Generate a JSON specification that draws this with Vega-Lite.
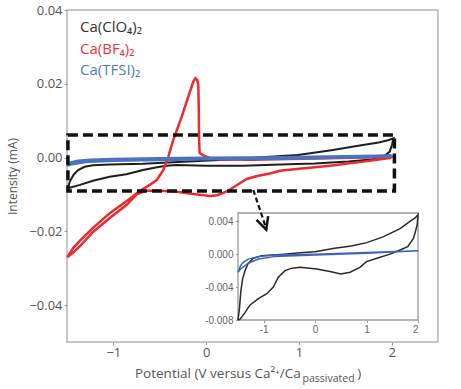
{
  "$schema": "https://vega.github.io/schema/vega-lite/v6.json",
  "width": 371,
  "height": 332,
  "autosize": {"type": "none"},
  "padding": {"left": 67, "top": 10, "right": 23, "bottom": 47},
  "background": "white",
  "config": {
    "view": {"stroke": "#b4b4b4", "strokeWidth": 1.5},
    "axis": {"grid": false, "domain": false},
    "font": "Open Sans"
  },
  "datasets": {
    "box": [{"v": -1.49, "v2": 2.03, "i": -0.0091, "i2": 0.0061}],
    "clo4": [
      {"o": 1, "v": -1.49, "i": -0.0083}, {"o": 2, "v": -1.47, "i": -0.0065}, {"o": 3, "v": -1.43, "i": -0.0047},
      {"o": 4, "v": -1.38, "i": -0.0034}, {"o": 5, "v": -1.31, "i": -0.0025}, {"o": 6, "v": -1.22, "i": -0.0021},
      {"o": 7, "v": -1.04, "i": -0.0019}, {"o": 8, "v": -0.68, "i": -0.0017}, {"o": 9, "v": -0.3, "i": -0.0012},
      {"o": 10, "v": 0.2, "i": -0.0006}, {"o": 11, "v": 0.6, "i": 0.0001}, {"o": 12, "v": 0.99, "i": 0.0007},
      {"o": 13, "v": 1.35, "i": 0.002}, {"o": 14, "v": 1.64, "i": 0.0032}, {"o": 15, "v": 1.86, "i": 0.0041},
      {"o": 16, "v": 1.96, "i": 0.0047}, {"o": 17, "v": 2.02, "i": 0.0052}, {"o": 18, "v": 2.005, "i": 0.0036},
      {"o": 19, "v": 1.98, "i": 0.0016}, {"o": 20, "v": 1.91, "i": 0.0002}, {"o": 21, "v": 1.785, "i": -0.0005},
      {"o": 22, "v": 1.533, "i": -0.0011}, {"o": 23, "v": 1.174, "i": -0.0016}, {"o": 24, "v": 0.8, "i": -0.0019},
      {"o": 25, "v": 0.4, "i": -0.0022}, {"o": 26, "v": 0.0, "i": -0.0022}, {"o": 27, "v": -0.32, "i": -0.002},
      {"o": 28, "v": -0.43, "i": -0.0022}, {"o": 29, "v": -0.53, "i": -0.0026}, {"o": 30, "v": -0.68, "i": -0.0034},
      {"o": 31, "v": -0.86, "i": -0.0045}, {"o": 32, "v": -1.04, "i": -0.0052}, {"o": 33, "v": -1.22, "i": -0.0063},
      {"o": 34, "v": -1.36, "i": -0.0074}, {"o": 35, "v": -1.49, "i": -0.0083}
    ],
    "bf4": [
      {"o": 1, "v": -1.497, "i": -0.027}, {"o": 2, "v": -1.43, "i": -0.0244}, {"o": 3, "v": -1.36, "i": -0.0225},
      {"o": 4, "v": -1.216, "i": -0.019}, {"o": 5, "v": -1.036, "i": -0.015}, {"o": 6, "v": -0.856, "i": -0.0118},
      {"o": 7, "v": -0.713, "i": -0.009}, {"o": 8, "v": -0.62, "i": -0.0076}, {"o": 9, "v": -0.533, "i": -0.0061},
      {"o": 10, "v": -0.462, "i": -0.0034}, {"o": 11, "v": -0.408, "i": 0.0002}, {"o": 12, "v": -0.354, "i": 0.0048},
      {"o": 13, "v": -0.263, "i": 0.0111}, {"o": 14, "v": -0.192, "i": 0.0165}, {"o": 15, "v": -0.138, "i": 0.0206},
      {"o": 16, "v": -0.115, "i": 0.0215}, {"o": 17, "v": -0.095, "i": 0.021}, {"o": 18, "v": -0.084, "i": 0.0195},
      {"o": 19, "v": -0.079, "i": 0.0129}, {"o": 20, "v": -0.076, "i": 0.0048}, {"o": 21, "v": -0.07, "i": 0.0012},
      {"o": 22, "v": -0.03, "i": 0.0006}, {"o": 23, "v": 0.05, "i": -0.0002}, {"o": 24, "v": 0.15, "i": -0.0005},
      {"o": 25, "v": 0.5, "i": -0.0006}, {"o": 26, "v": 0.9, "i": -0.0004}, {"o": 27, "v": 1.3, "i": -0.0002},
      {"o": 28, "v": 1.7, "i": 0.0}, {"o": 29, "v": 2.0, "i": 0.0002}, {"o": 30, "v": 1.98, "i": -0.0001},
      {"o": 31, "v": 1.695, "i": -0.0011}, {"o": 32, "v": 1.336, "i": -0.0022}, {"o": 33, "v": 0.977, "i": -0.0031},
      {"o": 34, "v": 0.796, "i": -0.0036}, {"o": 35, "v": 0.689, "i": -0.0043}, {"o": 36, "v": 0.55, "i": -0.005},
      {"o": 37, "v": 0.437, "i": -0.0058}, {"o": 38, "v": 0.33, "i": -0.0075}, {"o": 39, "v": 0.222, "i": -0.0092},
      {"o": 40, "v": 0.12, "i": -0.0102}, {"o": 41, "v": 0.042, "i": -0.0104}, {"o": 42, "v": -0.138, "i": -0.0099},
      {"o": 43, "v": -0.317, "i": -0.0093}, {"o": 44, "v": -0.497, "i": -0.009}, {"o": 45, "v": -0.65, "i": -0.009},
      {"o": 46, "v": -0.749, "i": -0.01}, {"o": 47, "v": -0.856, "i": -0.0128}, {"o": 48, "v": -1.036, "i": -0.0163},
      {"o": 49, "v": -1.216, "i": -0.0201}, {"o": 50, "v": -1.36, "i": -0.024}, {"o": 51, "v": -1.43, "i": -0.0257},
      {"o": 52, "v": -1.497, "i": -0.027}
    ],
    "tfsi": [
      {"o": 1, "v": -1.5, "i": -0.002}, {"o": 2, "v": -1.45, "i": -0.0014}, {"o": 3, "v": -1.38, "i": -0.001},
      {"o": 4, "v": -1.25, "i": -0.0007}, {"o": 5, "v": -1.0, "i": -0.0005}, {"o": 6, "v": -0.5, "i": -0.0003},
      {"o": 7, "v": 0.0, "i": -0.0002}, {"o": 8, "v": 0.5, "i": -0.0001}, {"o": 9, "v": 1.0, "i": 0.0},
      {"o": 10, "v": 1.5, "i": 0.0002}, {"o": 11, "v": 2.0, "i": 0.0004}, {"o": 12, "v": 1.0, "i": -0.0001},
      {"o": 13, "v": 0.0, "i": -0.0003}, {"o": 14, "v": -1.0, "i": -0.0007}, {"o": 15, "v": -1.3, "i": -0.0011},
      {"o": 16, "v": -1.45, "i": -0.0017}, {"o": 17, "v": -1.5, "i": -0.002}
    ],
    "legend": [
      {"t": "Ca(ClO₄)₂", "s": "ClO4", "v": -1.36, "i": 0.034},
      {"t": "Ca(BF₄)₂", "s": "BF4", "v": -1.36, "i": 0.0282},
      {"t": "Ca(TFSI)₂", "s": "TFSI", "v": -1.36, "i": 0.0224}
    ],
    "xt": [
      {"t": "Potential (V versus Ca²⁺/Ca", "v": -0.767, "i": -0.05976},
      {"t": ")", "v": 1.63, "i": -0.05976}
    ],
    "xs": [{"t": "passivated", "v": 1.04, "i": -0.0609}],
    "arrow": [{"o": 1, "v": 0.509, "i": -0.0088}, {"o": 2, "v": 0.653, "i": -0.0196}],
    "head": [{"v": 0.627, "i": -0.01796}],
    "ibox": [{"v": -1.5, "v2": 2, "i": -0.008, "i2": 0.005}],
    "iclo4": [
      {"o": 1, "v": -1.5, "i": -0.008}, {"o": 2, "v": -1.47, "i": -0.0065}, {"o": 3, "v": -1.445, "i": -0.0045},
      {"o": 4, "v": -1.41, "i": -0.003}, {"o": 5, "v": -1.364, "i": -0.002}, {"o": 6, "v": -1.3, "i": -0.0011},
      {"o": 7, "v": -1.2, "i": -0.0005}, {"o": 8, "v": -1.04, "i": -0.0002}, {"o": 9, "v": -0.6, "i": 0.0},
      {"o": 10, "v": -0.294, "i": 0.00016}, {"o": 11, "v": 0.0, "i": 0.0003}, {"o": 12, "v": 0.348, "i": 0.0007},
      {"o": 13, "v": 0.7, "i": 0.001}, {"o": 14, "v": 1.004, "i": 0.0014}, {"o": 15, "v": 1.32, "i": 0.0021},
      {"o": 16, "v": 1.652, "i": 0.0031}, {"o": 17, "v": 1.85, "i": 0.004}, {"o": 18, "v": 1.944, "i": 0.0044},
      {"o": 19, "v": 2.0, "i": 0.0048}, {"o": 20, "v": 1.985, "i": 0.0036}, {"o": 21, "v": 1.944, "i": 0.0026},
      {"o": 22, "v": 1.91, "i": 0.0019}, {"o": 23, "v": 1.8, "i": 0.0009}, {"o": 24, "v": 1.652, "i": 0.0005},
      {"o": 25, "v": 1.457, "i": 0.0}, {"o": 26, "v": 1.2, "i": -0.0005}, {"o": 27, "v": 1.0, "i": -0.0009},
      {"o": 28, "v": 0.87, "i": -0.0016}, {"o": 29, "v": 0.68, "i": -0.0022}, {"o": 30, "v": 0.5, "i": -0.0024},
      {"o": 31, "v": 0.29, "i": -0.0021}, {"o": 32, "v": 0.03, "i": -0.0018}, {"o": 33, "v": -0.29, "i": -0.0016},
      {"o": 34, "v": -0.45, "i": -0.0017}, {"o": 35, "v": -0.586, "i": -0.002}, {"o": 36, "v": -0.716, "i": -0.0028},
      {"o": 37, "v": -0.813, "i": -0.004}, {"o": 38, "v": -0.94, "i": -0.0048}, {"o": 39, "v": -1.105, "i": -0.0054},
      {"o": 40, "v": -1.27, "i": -0.0062}, {"o": 41, "v": -1.364, "i": -0.0071}, {"o": 42, "v": -1.46, "i": -0.0079},
      {"o": 43, "v": -1.5, "i": -0.008}
    ],
    "itfsi": [
      {"o": 1, "v": -1.5, "i": -0.0022}, {"o": 2, "v": -1.45, "i": -0.0014}, {"o": 3, "v": -1.4, "i": -0.001},
      {"o": 4, "v": -1.3, "i": -0.0006}, {"o": 5, "v": -1.1, "i": -0.0003}, {"o": 6, "v": -0.8, "i": -0.0001},
      {"o": 7, "v": 0.0, "i": 0.0}, {"o": 8, "v": 1.0, "i": 0.0002}, {"o": 9, "v": 2.0, "i": 0.0004},
      {"o": 10, "v": 1.0, "i": 0.0001}, {"o": 11, "v": 0.0, "i": -0.0001}, {"o": 12, "v": -0.8, "i": -0.0003},
      {"o": 13, "v": -1.1, "i": -0.0006}, {"o": 14, "v": -1.3, "i": -0.0011}, {"o": 15, "v": -1.45, "i": -0.0018},
      {"o": 16, "v": -1.5, "i": -0.0022}
    ]
  },
  "layer": [
    {
      "encoding": {
        "x": {
          "field": "v", "type": "quantitative",
          "scale": {"domain": [-1.5, 2.5], "nice": false, "zero": false},
          "axis": {"values": [-1, 0, 1, 2], "format": "d", "title": null, "labelFont": "Open Sans", "labelFontSize": 13, "labelColor": "#555", "tickColor": "#999", "tickSize": 3, "labelPadding": 1}
        },
        "y": {
          "field": "i", "type": "quantitative",
          "scale": {"domain": [-0.05, 0.04], "nice": false, "zero": false},
          "axis": {"values": [-0.04, -0.02, 0, 0.02, 0.04], "format": ".2f", "title": "Intensity (mA)", "labelFont": "Open Sans", "labelFontSize": 13, "labelColor": "#555", "tickColor": "#999", "tickSize": 3, "labelPadding": 2, "titleFont": "Open Sans", "titleFontSize": 12, "titleFontWeight": "normal", "titleColor": "#555", "titleX": -55, "titleY": 166, "titleAlign": "center", "titleBaseline": "middle"}
        }
      },
      "layer": [
        {"data": {"name": "clo4"}, "mark": {"type": "line", "color": "#1e1e1e", "strokeWidth": 2}, "encoding": {"order": {"field": "o"}}},
        {"data": {"name": "bf4"}, "mark": {"type": "line", "color": "#ee2a30", "strokeWidth": 2.5}, "encoding": {"order": {"field": "o"}}},
        {"data": {"name": "tfsi"}, "mark": {"type": "line", "color": "#4a72c0", "strokeWidth": 3.5}, "encoding": {"order": {"field": "o"}}},
        {"data": {"name": "box"}, "mark": {"type": "rect", "fillOpacity": 0, "stroke": "#111", "strokeWidth": 3.5, "strokeDash": [10, 5]}, "encoding": {"x2": {"field": "v2"}, "y2": {"field": "i2"}}},
        {"data": {"name": "legend"}, "mark": {"type": "text", "align": "left", "baseline": "alphabetic", "fontSize": 15, "font": "Open Sans"},
         "encoding": {"text": {"field": "t"}, "color": {"field": "s", "type": "nominal", "scale": {"domain": ["ClO4", "BF4", "TFSI"], "range": ["#333333", "#f0333a", "#5279c6"]}, "legend": null}}},
        {"data": {"name": "xt"}, "mark": {"type": "text", "align": "left", "baseline": "alphabetic", "fontSize": 13.5, "font": "Open Sans", "color": "#555"}, "encoding": {"text": {"field": "t"}}},
        {"data": {"name": "xs"}, "mark": {"type": "text", "align": "left", "baseline": "alphabetic", "fontSize": 10.5, "font": "Open Sans", "color": "#555"}, "encoding": {"text": {"field": "t"}}}
      ]
    },
    {
      "encoding": {
        "x": {
          "field": "v", "type": "quantitative",
          "scale": {"domain": [-1.5, 2], "range": [171, 351], "nice": false, "zero": false},
          "axis": {"orient": "bottom", "offset": -22, "values": [-1, 0, 1, 2], "labelExpr": "replace(format(datum.value, 'd'), '\u2212', '-')", "title": null, "labelFont": "Liberation Sans", "labelFontSize": 10, "labelColor": "#666", "tickColor": "#999", "tickSize": 2.5, "labelPadding": 2}
        },
        "y": {
          "field": "i", "type": "quantitative",
          "scale": {"domain": [-0.008, 0.005], "range": [310, 203], "nice": false, "zero": false},
          "axis": {"orient": "left", "offset": -171, "values": [-0.008, -0.004, 0, 0.004], "labelExpr": "replace(format(datum.value, '.3f'), '\u2212', '-')", "title": null, "labelFont": "Liberation Sans", "labelFontSize": 10, "labelColor": "#666", "tickColor": "#999", "tickSize": 2.5, "labelPadding": 2.5}
        }
      },
      "layer": [
        {"data": {"name": "ibox"}, "mark": {"type": "rect", "fillOpacity": 0, "stroke": "#9a9a9a", "strokeWidth": 1.3}, "encoding": {"x2": {"field": "v2"}, "y2": {"field": "i2"}}},
        {"data": {"name": "iclo4"}, "mark": {"type": "line", "color": "#2a2a2a", "strokeWidth": 1.5}, "encoding": {"order": {"field": "o"}}},
        {"data": {"name": "itfsi"}, "mark": {"type": "line", "color": "#3d64b8", "strokeWidth": 1.5}, "encoding": {"order": {"field": "o"}}}
      ]
    },
    {
      "encoding": {
        "x": {"field": "v", "type": "quantitative", "scale": {"domain": [-1.5, 2.5], "nice": false, "zero": false}, "axis": null},
        "y": {"field": "i", "type": "quantitative", "scale": {"domain": [-0.05, 0.04], "nice": false, "zero": false}, "axis": null}
      },
      "layer": [
        {"data": {"name": "arrow"}, "mark": {"type": "line", "color": "#111", "strokeWidth": 2.2, "strokeDash": [5, 3]}, "encoding": {"order": {"field": "o"}}},
        {"data": {"name": "head"}, "mark": {"type": "point", "shape": "M-1,-1L0,1L1,-1", "filled": false, "color": "#111", "strokeWidth": 2.5, "size": 150, "angle": 341.5, "opacity": 1}}
      ]
    }
  ],
  "resolve": {"scale": {"x": "independent", "y": "independent"}}
}
